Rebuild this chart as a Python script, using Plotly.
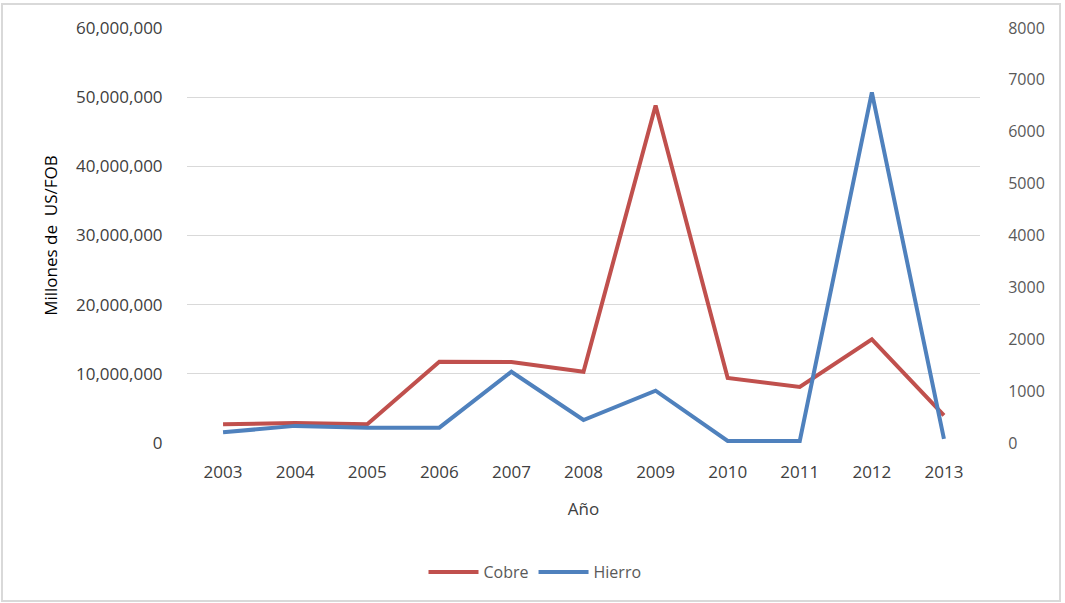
import plotly.graph_objects as go

# Export values per year
anios = ["2003", "2004", "2005", "2006", "2007", "2008", "2009", "2010", "2011", "2012", "2013"]
cobre = [2700000, 2900000, 2700000, 11750000, 11700000, 10300000, 48800000, 9400000, 8100000, 15000000, 4000000]
hierro = [206, 330, 295, 295, 1374, 443, 1008, 40, 40, 6760, 80]

left_ticks = [0, 10000000, 20000000, 30000000, 40000000, 50000000, 60000000]
right_ticks = [0, 1000, 2000, 3000, 4000, 5000, 6000, 7000, 8000]

ROJO = "#C0504D"
AZUL = "#4F81BD"
FONT = "Open Sans"

fig = go.Figure()
fig.add_trace(go.Scatter(x=anios, y=cobre, name="Cobre", mode="lines",
                         line=dict(color=ROJO, width=4), yaxis="y"))
fig.add_trace(go.Scatter(x=anios, y=hierro, name="Hierro", mode="lines",
                         line=dict(color=AZUL, width=4), yaxis="y2"))

W, H = 1065, 603
L, R, T, B = 187, 85, 28, 160
pw, ph = W - L - R, H - T - B

def px_x(x):
    return (x - L) / pw

def px_y(y):
    return (H - B - y) / ph

fig.update_layout(
    width=W, height=H,
    margin=dict(l=L, r=R, t=T, b=B),
    paper_bgcolor="white", plot_bgcolor="white",
    font=dict(family=FONT, size=16, color="#404040"),
    xaxis=dict(
        type="category", range=[-0.5, len(anios) - 0.5],
        showgrid=False, zeroline=False, showline=False,
        ticks="outside", ticklen=14, tickcolor="rgba(0,0,0,0)",
        tickfont=dict(size=17, color="#404040"),
        title=dict(text="Año", font=dict(size=17, color="#404040"), standoff=20),
    ),
    yaxis=dict(
        range=[0, 60000000], tickvals=left_ticks, tickformat=",d",
        showgrid=True, gridcolor="#D9D9D9", gridwidth=1,
        zeroline=True, zerolinecolor="white", showline=False,
        ticks="outside", ticklen=20, tickcolor="rgba(0,0,0,0)",
        tickfont=dict(size=17, color="#404040"),
        title=dict(text="Millones de  US/FOB", font=dict(size=17, color="black"), standoff=14),
    ),
    yaxis2=dict(
        range=[0, 8000], tickvals=right_ticks, overlaying="y", side="right",
        showgrid=False, zeroline=False, showline=False,
        ticks="outside", ticklen=24, tickcolor="rgba(0,0,0,0)",
        tickfont=dict(size=16, color="#595959"),
    ),
    legend=dict(orientation="h", x=px_x(535), xanchor="center", y=px_y(572), yanchor="middle",
                font=dict(size=16, color="#595959"), itemwidth=50, tracegroupgap=0),
    shapes=[dict(type="rect", xref="paper", yref="paper",
                 x0=px_x(2), x1=px_x(1060), y0=px_y(601), y1=px_y(4),
                 line=dict(color="#D9D9D9", width=2), layer="below")],
)

fig.write_html("out.html")
